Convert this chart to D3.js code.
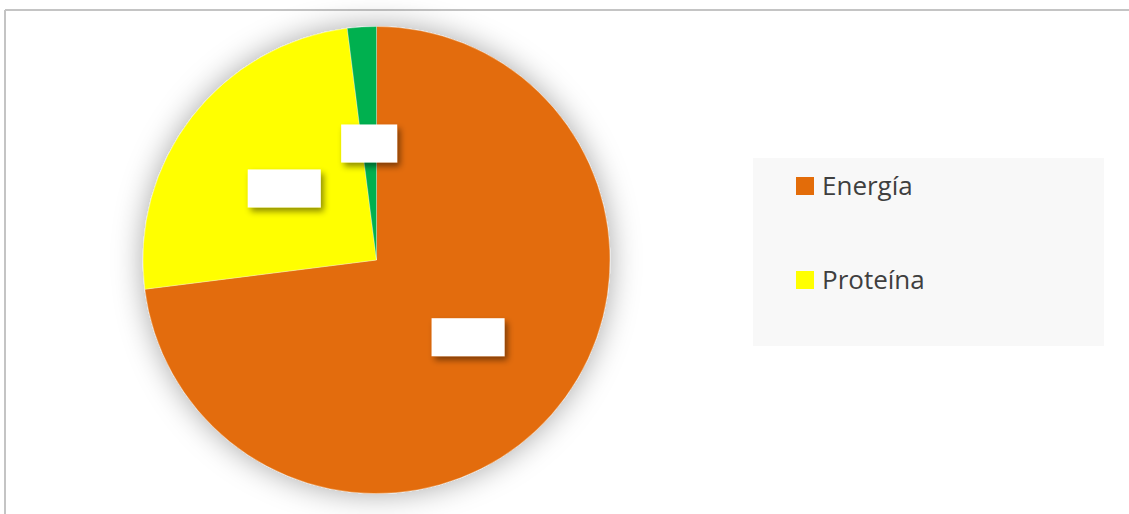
<!DOCTYPE html>
<html>
<head>
<meta charset="utf-8">
<script src="https://cdn.jsdelivr.net/npm/d3@7"></script>
<style>
  body { margin: 0; background: #fff; }
  svg { display: block; }
</style>
</head>
<body>
<div id="chart"></div>
<script>
// data
const categories = ['Energía', 'Proteína', 'Otros']
const values = [73, 25, 2]
const colors = ['#E36C09', '#FFFF00', '#00B050']
const legendItems = ['Energía', 'Proteína']

const w = 1129
const h = 514
const cx = 376.5
const cy = 260
const radius = 233.5

const svg = d3.select('#chart')
  .append('svg')
  .attr('width', w)
  .attr('height', h)

const defs = svg.append('defs')

// soft glow round the pie
const glow = defs.append('filter')
  .attr('id', 'glow')
  .attr('x', '-30%').attr('y', '-30%')
  .attr('width', '160%').attr('height', '160%')
glow.append('feDropShadow')
  .attr('dx', 0).attr('dy', 0)
  .attr('stdDeviation', 15)
  .attr('flood-color', '#000')
  .attr('flood-opacity', 0.35)

// shadow under the label boxes
const labelShadow = defs.append('filter')
  .attr('id', 'labelShadow')
  .attr('x', '-30%').attr('y', '-30%')
  .attr('width', '160%').attr('height', '180%')
labelShadow.append('feDropShadow')
  .attr('dx', 3).attr('dy', 4)
  .attr('stdDeviation', 3)
  .attr('flood-color', '#000')
  .attr('flood-opacity', 0.45)

// frame (top and left lines)
svg.append('line')
  .attr('x1', 5).attr('y1', 10).attr('x2', w).attr('y2', 10)
  .attr('stroke', '#c4c4c4').attr('stroke-width', 2)
svg.append('line')
  .attr('x1', 5).attr('y1', 10).attr('x2', 5).attr('y2', h)
  .attr('stroke', '#c4c4c4').attr('stroke-width', 2)

const data = categories.map((c, i) => ({ name: c, value: values[i], color: colors[i] }))

const pie = d3.pie()
  .sort(null)
  .value(d => d.value)

const arc = d3.arc()
  .innerRadius(0)
  .outerRadius(radius)

const labelArc = d3.arc()
  .innerRadius(radius * 0.5)
  .outerRadius(radius * 0.5)

const arcs = pie(data)

const g = svg.append('g')
  .attr('transform', 'translate(' + cx + ',' + cy + ')')

g.append('g')
  .attr('filter', 'url(#glow)')
  .selectAll('path')
  .data(arcs)
  .enter()
  .append('path')
  .attr('d', arc)
  .attr('fill', d => d.data.color)
  .attr('stroke', '#fff')
  .attr('stroke-width', 0.5)
  .attr('stroke-opacity', 0.6)

// empty data label boxes
const boxW = [73, 73, 56]
const boxH = 38
g.selectAll('rect.label')
  .data(arcs)
  .enter()
  .append('rect')
  .attr('class', 'label')
  .attr('x', (d, i) => labelArc.centroid(d)[0] - boxW[i] / 2 + (i === 0 ? 4 : 0))
  .attr('y', d => labelArc.centroid(d)[1] - boxH / 2)
  .attr('width', (d, i) => boxW[i])
  .attr('height', boxH)
  .attr('fill', '#fff')
  .attr('filter', 'url(#labelShadow)')

// legend
const legend = svg.append('g')
legend.append('rect')
  .attr('x', 753).attr('y', 158)
  .attr('width', 351).attr('height', 188)
  .attr('fill', '#f8f8f8')

const legendY = d3.scalePoint()
  .domain(legendItems)
  .range([186, 280])

legendItems.forEach((name, i) => {
  legend.append('rect')
    .attr('x', 796)
    .attr('y', legendY(name) - 9)
    .attr('width', 18)
    .attr('height', 18)
    .attr('fill', colors[categories.indexOf(name)])
  legend.append('text')
    .attr('x', 822)
    .attr('y', legendY(name))
    .attr('dy', '0.35em')
    .attr('font-family', 'Open Sans, sans-serif')
    .attr('font-size', 26)
    .attr('fill', '#3f3f3f')
    .text(name)
})
</script>
</body>
</html>
